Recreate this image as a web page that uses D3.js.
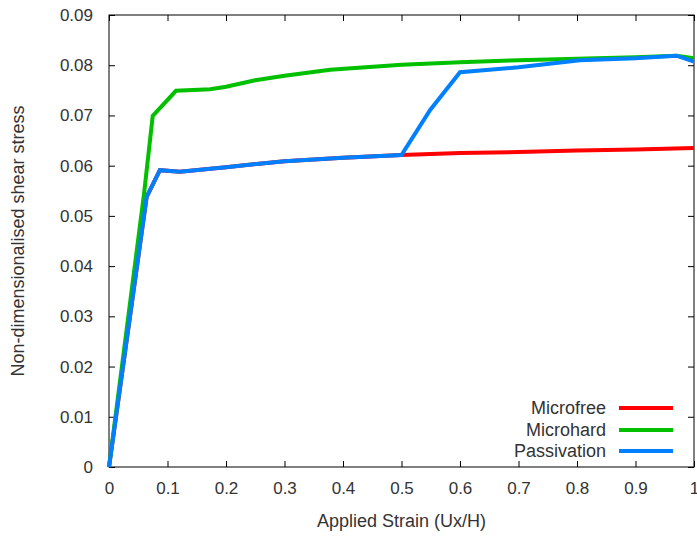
<!DOCTYPE html>
<html><head><meta charset="utf-8">
<script src="https://cdn.jsdelivr.net/npm/d3@7"></script>
<style>body{margin:0;background:#fff;} text{font-family:"Liberation Sans",Arial,sans-serif;}</style>
</head><body>
<svg id="c" width="697" height="536"></svg>
<script>
const xTicks = [0,0.1,0.2,0.3,0.4,0.5,0.6,0.7,0.8,0.9,1];
const xTickLabels = ["0","0.1","0.2","0.3","0.4","0.5","0.6","0.7","0.8","0.9","1"];
const yTicks = [0,0.01,0.02,0.03,0.04,0.05,0.06,0.07,0.08,0.09];
const yTickLabels = ["0","0.01","0.02","0.03","0.04","0.05","0.06","0.07","0.08","0.09"];
const seriesNames = ["Microfree","Microhard","Passivation"];
const seriesColors = ["#ff0000","#00c000","#0080ff"];

const microfreeX = [0,0.0644,0.087,0.121,0.2,0.3,0.4,0.5,0.6,0.7,0.8,0.9,1.0];
const microfreeY = [0,0.0538,0.0591,0.0588,0.0597,0.0609,0.0616,0.0621,0.0625,0.0627,0.0630,0.0632,0.0635];
const microhardX = [0,0.060,0.0747,0.1145,0.173,0.2,0.25,0.3,0.378,0.5,0.6,0.7,0.8,0.9,0.97,1.0];
const microhardY = [0,0.0545,0.0699,0.0749,0.0752,0.0757,0.0770,0.0779,0.0791,0.0801,0.0806,0.0810,0.0813,0.0816,0.0819,0.0814];
const passivationX = [0,0.0644,0.087,0.121,0.2,0.3,0.4,0.5,0.549,0.6,0.7,0.805,0.9,0.97,1.0];
const passivationY = [0,0.0538,0.0591,0.0588,0.0597,0.0609,0.0616,0.0621,0.0711,0.0786,0.0796,0.0810,0.0814,0.0819,0.0807];

const svg = d3.select("#c");
const L=109, R=694, T=15, B=467;
const x = d3.scaleLinear().domain([0,1]).range([L,R]);
const y = d3.scaleLinear().domain([0,0.09]).range([B,T]);
const tc = "#333";
const fsTick = "17px", fsTitle = "18px";

const ax = svg.append("g").attr("transform",`translate(0,${B})`)
  .call(d3.axisBottom(x).tickValues(xTicks).tickFormat((d,i)=>xTickLabels[i]).tickSizeInner(-6).tickSizeOuter(0).tickPadding(15));
const axT = svg.append("g").attr("transform",`translate(0,${T})`)
  .call(d3.axisTop(x).tickValues(xTicks).tickFormat("").tickSizeInner(-6).tickSizeOuter(0));
const ay = svg.append("g").attr("transform",`translate(${L},0)`)
  .call(d3.axisLeft(y).tickValues(yTicks).tickFormat((d,i)=>yTickLabels[i]).tickSizeInner(-6).tickSizeOuter(0).tickPadding(16));
const ayR = svg.append("g").attr("transform",`translate(${R},0)`)
  .call(d3.axisRight(y).tickValues(yTicks).tickFormat("").tickSizeInner(-6).tickSizeOuter(0));
[ax,axT,ay,ayR].forEach(g=>{
  g.select(".domain").remove();
  g.selectAll(".tick line").attr("stroke","#000");
  g.selectAll(".tick text").attr("fill",tc).style("font-size",fsTick).style("font-family","'Liberation Sans',Arial,sans-serif");
});
svg.append("rect").attr("x",L).attr("y",T).attr("width",R-L).attr("height",B-T)
  .attr("fill","none").attr("stroke","#000").attr("stroke-width",1);

const data = [
  d3.zip(microfreeX,microfreeY),
  d3.zip(microhardX,microhardY),
  d3.zip(passivationX,passivationY)
];
const line = d3.line().x(d=>x(d[0])).y(d=>y(d[1]));
svg.append("clipPath").attr("id","pc").append("rect")
  .attr("x",L-3).attr("y",T).attr("width",R-L+3).attr("height",B-T+3);
data.forEach((d,i)=>{
  svg.append("path").attr("d",line(d)).attr("fill","none")
    .attr("stroke",seriesColors[i]).attr("stroke-width",4)
    .attr("clip-path","url(#pc)");
});

const legY = [408,430,451];
seriesNames.forEach((n,i)=>{
  svg.append("text").attr("x",606).attr("y",legY[i]).attr("dy","0.35em")
    .attr("text-anchor","end").attr("fill",tc).style("font-size",fsTitle).text(n);
  svg.append("line").attr("x1",619).attr("x2",673).attr("y1",legY[i]).attr("y2",legY[i])
    .attr("stroke",seriesColors[i]).attr("stroke-width",4);
});

svg.append("text").attr("x",(L+R)/2).attr("y",527).attr("text-anchor","middle")
  .attr("fill",tc).style("font-size",fsTitle).text("Applied Strain (Ux/H)");
svg.append("text").attr("transform",`translate(24,${(T+B)/2}) rotate(-90)`).attr("text-anchor","middle")
  .attr("fill",tc).style("font-size",fsTitle).text("Non-dimensionalised shear stress");
</script>
</body></html>
